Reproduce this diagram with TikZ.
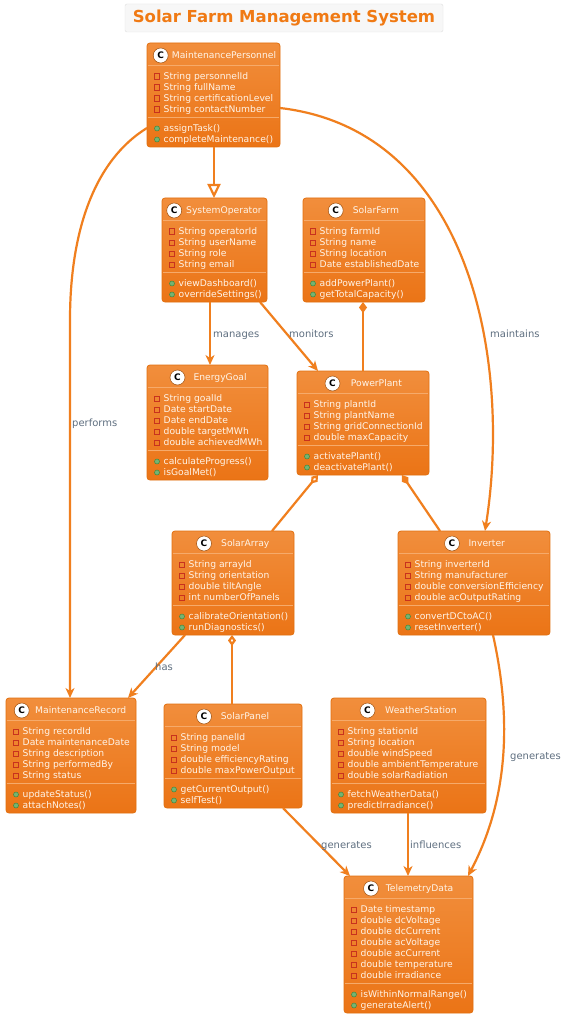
\documentclass[tikz,border=0pt]{standalone}
\usepackage{fontspec}
\setmainfont{DejaVu Sans}
\usetikzlibrary{arrows.meta,calc}
\definecolor{orline}{HTML}{F07F1E}
\definecolor{boxtop}{HTML}{F18E3C}
\definecolor{boxbot}{HTML}{EB7416}
\definecolor{boxborder}{HTML}{E2700F}
\definecolor{sepcol}{HTML}{F6AA6A}
\definecolor{boxtext}{HTML}{FFF4E8}
\definecolor{labelcol}{HTML}{5F6F80}
\definecolor{attrred}{HTML}{C8321E}
\definecolor{methfill}{HTML}{74B374}
\definecolor{methdraw}{HTML}{3F8A3F}
\definecolor{titlecol}{HTML}{F07A14}
\newcommand{\clsmemberfont}{\fontsize{9.2}{11}\selectfont}
% #1 id, #2 left, #3 top, #4 width, #5 number of attributes, #6 attributes, #7 methods
\newcommand{\umlclass}[7]{%
  \pgfmathsetmacro\clH{22+11*#5+8+30}%
  \node[classbox, minimum width=#4pt, minimum height=\clH pt, anchor=north west] (#1) at (#2,#3) {};
  \draw[sepline] (#2+0.6,#3+22) -- (#2+#4-0.6,#3+22);
  \draw[sepline] (#2+0.6,#3+22+11*#5+8) -- (#2+#4-0.6,#3+22+11*#5+8);
  \foreach \mbr [count=\i from 0] in {#6} {
    \draw[attricon] (#2+10-2.6,#3+33.5+11*\i-2.6) rectangle ++(5.2,5.2);
    \node[membertext] at (#2+16.5,#3+33.5+11*\i) {\mbr};
  }
  \foreach \mbr [count=\i from 0] in {#7} {
    \filldraw[methicon] (#2+10,#3+22+11*#5+8+11.5+11*\i) circle (2.5);
    \node[membertext] at (#2+16.5,#3+22+11*#5+8+11.5+11*\i) {\mbr};
  }
}
% #1 circle centre x, #2 name x, #3 box top, #4 name
\newcommand{\clshead}[4]{%
  \node[cicon] at (#1,#3+12.5) {C};
  \node[membertext] at (#2,#3+12.5) {#4};
}
\begin{document}
\begin{tikzpicture}[x=1pt,y=-1pt,
  classbox/.style={draw=boxborder, line width=0.8pt, rounded corners=3pt, top color=boxtop, bottom color=boxbot, inner sep=0pt, outer sep=0pt},
  sepline/.style={draw=sepcol, line width=0.8pt},
  cicon/.style={circle, fill=white, draw=boxborder!70!black, line width=0.5pt, minimum size=15pt, inner sep=0pt, font=\bfseries\fontsize{9}{9}\selectfont, text=black},
  membertext/.style={anchor=west, inner sep=0pt, text=boxtext, font=\clsmemberfont, text height=8pt, text depth=1.5pt},
  attricon/.style={draw=attrred, line width=0.8pt},
  methicon/.style={fill=methfill, draw=methdraw, line width=0.5pt},
  conn/.style={draw=orline, line width=2.2pt},
  arr/.style={conn, -{Stealth[length=10pt, width=9pt, inset=3pt]}},
  inh/.style={conn, -{Triangle[open, fill=white, length=14pt, width=13pt]}},
  comp/.style={conn, {Diamond[length=11pt, width=8pt]}-},
  aggr/.style={conn, {Diamond[open, fill=white, length=11pt, width=8pt]}-},
  lbl/.style={anchor=west, inner sep=0pt, text=labelcol, font=\fontsize{10}{12}\selectfont, text height=8pt, text depth=1.5pt}
]
\fill[white] (0,0) rectangle (574,1024);
\path[use as bounding box] (0,0) rectangle (574,1024);

\node[draw=black!12, fill=black!3, rounded corners=2pt, minimum width=318pt, minimum height=28pt, inner sep=0pt, text=titlecol, font=\bfseries\fontsize{16.5}{18}\selectfont] (title) at (284,18) {Solar Farm Management System};

\umlclass{mp}{147}{43}{133}{4}{String personnelId,String fullName,String certificationLevel,String contactNumber}{assignTask(),completeMaintenance()}
\clshead{160.7}{171.7}{43}{MaintenancePersonnel}
\umlclass{so}{162}{198}{105}{4}{String operatorId,String userName,String role,String email}{viewDashboard(),overrideSettings()}
\clshead{174.2}{186}{198}{SystemOperator}
\umlclass{sf}{303}{198}{122}{4}{String farmId,String name,String location,Date establishedDate}{addPowerPlant(),getTotalCapacity()}
\clshead{335.7}{352.7}{198}{SolarFarm}
\umlclass{eg}{147}{365}{121}{5}{String goalId,Date startDate,Date endDate,double targetMWh,double achievedMWh}{calculateProgress(),isGoalMet()}
\clshead{177.5}{193.3}{365}{EnergyGoal}
\umlclass{pp}{297}{371}{132}{4}{String plantId,String plantName,String gridConnectionId,double maxCapacity}{activatePlant(),deactivatePlant()}
\clshead{332.5}{350.7}{371}{PowerPlant}
\umlclass{sa}{172}{531}{122}{4}{String arrayId,String orientation,double tiltAngle,int numberOfPanels}{calibrateOrientation(),runDiagnostics()}
\clshead{204}{221}{531}{SolarArray}
\umlclass{inv}{398}{531}{152}{4}{String inverterId,String manufacturer,double conversionEfficiency,double acOutputRating}{convertDCtoAC(),resetInverter()}
\clshead{452}{468.3}{531}{Inverter}
\umlclass{mr}{6}{698}{130}{5}{String recordId,Date maintenanceDate,String description,String performedBy,String status}{updateStatus(),attachNotes()}
\clshead{21.7}{35}{698}{MaintenanceRecord}
\umlclass{sp}{164}{704}{138}{4}{String panelId,String model,double efficiencyRating,double maxPowerOutput}{getCurrentOutput(),selfTest()}
\clshead{204}{220.7}{704}{SolarPanel}
\umlclass{ws}{331}{698}{155}{5}{String stationId,String location,double windSpeed,double ambientTemperature,double solarRadiation}{fetchWeatherData(),predictIrradiance()}
\clshead{367.5}{385}{698}{WeatherStation}
\umlclass{td}{344}{876}{129}{7}{Date timestamp,double dcVoltage,double dcCurrent,double acVoltage,double acCurrent,double temperature,double irradiance}{isWithinNormalRange(),generateAlert()}
\clshead{371}{385.7}{876}{TelemetryData}

% connectors
\draw[inh] ([xshift=67pt]mp.south west) -- ([xshift=52pt]so.north west);
\draw[arr] ([yshift=19pt]mp.south west) .. controls (95,160) and (70,230) .. (70,320) -- ([xshift=64pt]mr.north west);
\draw[arr] ([yshift=39pt]mp.south east) .. controls (470,130) and (512,360) .. ([xshift=87pt]inv.north west);
\draw[arr] ([xshift=48pt]so.south west) -- ([xshift=63pt]eg.north west);
\draw[arr] ([xshift=98pt]so.south west) -- ([xshift=21pt]pp.north west);
\draw[comp] ([xshift=60pt]sf.south west) -- ([xshift=66pt]pp.north west);
\draw[aggr] ([xshift=21pt]pp.south west) -- ([xshift=100pt]sa.north west);
\draw[comp] ([xshift=105pt]pp.south west) -- ([xshift=42pt]inv.north west);
\draw[arr] ([xshift=13pt]sa.south west) -- ([xshift=122pt]mr.north west);
\draw[aggr] ([xshift=60pt]sa.south west) -- ([xshift=68pt]sp.north west);
\draw[arr] ([xshift=119pt]sp.south west) -- ([xshift=6pt]td.north west);
\draw[arr] ([xshift=77pt]ws.south west) -- ([xshift=64pt]td.north west);
\draw[arr] ([xshift=95pt]inv.south west) .. controls (512,720) and (508,800) .. ([xshift=124pt]td.north west);

% labels
\node[lbl] (lperf) at (72,423) {performs};
\node[lbl] (lmaint) at (490,334) {maintains};
\node[lbl] (lman) at (213,334) {manages};
\node[lbl] (lmon) at (289,334) {monitors};
\node[lbl] (lhas) at (155,667) {has};
\node[lbl] (lgen1) at (321,845) {generates};
\node[lbl] (linf) at (410,845) {influences};
\node[lbl] (lgen2) at (510,756) {generates};
\end{tikzpicture}
\end{document}
